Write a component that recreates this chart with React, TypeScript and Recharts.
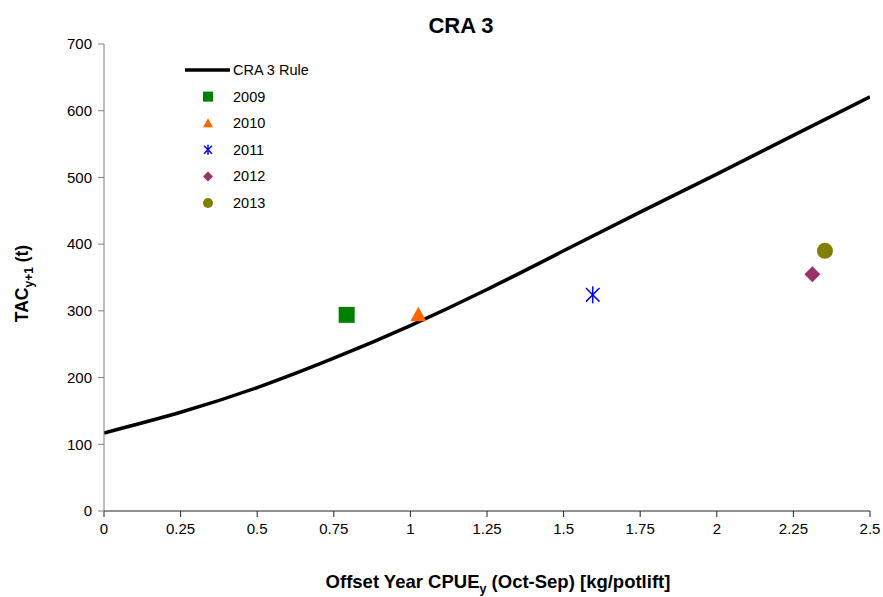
import React from 'react';
import { ComposedChart, Line, Scatter, XAxis, YAxis, Label } from 'recharts';

// CRA 3 harvest control rule
const ruleCpue = [0, 0.25, 0.5, 0.75, 1, 1.25, 1.5, 1.75, 2, 2.25, 2.5];
const ruleTac = [117, 148, 185, 229, 278, 332, 390, 448, 505, 563, 621];

// observed years
const years = ['2009', '2010', '2011', '2012', '2013'];
const yearCpue = [0.792, 1.026, 1.595, 2.312, 2.353];
const yearTac = [294, 294, 324, 355, 390];

const xTicks = [0, 0.25, 0.5, 0.75, 1, 1.25, 1.5, 1.75, 2, 2.25, 2.5];
const yTicks = [0, 100, 200, 300, 400, 500, 600, 700];

const FONT = '"Liberation Sans", Arial, sans-serif';
const colors = ['#008000', '#FF6600', '#0000FF', '#993366', '#808000'];
const kinds = ['square', 'triangle', 'asterisk', 'diamond', 'circle'];

const ruleData = ruleCpue.map((x, i) => ({ x, y: ruleTac[i] }));

function Marker({ kind, cx, cy, s, color }: { kind: string; cx: number; cy: number; s: number; color: string }) {
  const h = s / 2;
  if (kind === 'square') return <rect x={cx - h} y={cy - h} width={s} height={s} fill={color} />;
  if (kind === 'triangle')
    return <polygon points={`${cx},${cy - h} ${cx + h},${cy + h * 0.8} ${cx - h},${cy + h * 0.8}`} fill={color} />;
  if (kind === 'diamond')
    return <polygon points={`${cx},${cy - h} ${cx + h},${cy} ${cx},${cy + h} ${cx - h},${cy}`} fill={color} />;
  if (kind === 'circle') return <circle cx={cx} cy={cy} r={h} fill={color} />;
  const d = h * 0.8;
  return (
    <g stroke={color} strokeWidth={1.5}>
      <line x1={cx} y1={cy - h} x2={cx} y2={cy + h} />
      <line x1={cx - d} y1={cy - d} x2={cx + d} y2={cy + d} />
      <line x1={cx - d} y1={cy + d} x2={cx + d} y2={cy - d} />
    </g>
  );
}

const makeShape = (i: number) => (props: any) => (
  <Marker kind={kinds[i]} cx={props.cx} cy={props.cy} s={i === 2 ? 17 : 16} color={colors[i]} />
);

function LegendBox() {
  const rowH = 26.6;
  return (
    <svg width={170} height={160} style={{ fontFamily: FONT, fontSize: 14.5, display: 'block' }}>
      <line x1={2} y1={10} x2={47} y2={10} stroke="#000" strokeWidth={3.5} />
      <text x={50} y={15} fill="#000">CRA 3 Rule</text>
      {years.map((yr, i) => (
        <g key={yr}>
          <Marker kind={kinds[i]} cx={25} cy={10 + rowH * (i + 1)} s={10} color={colors[i]} />
          <text x={50} y={15 + rowH * (i + 1)} fill="#000">{yr}</text>
        </g>
      ))}
    </svg>
  );
}

function YTitle({ viewBox }: any) {
  const cx = 28;
  const cy = viewBox.y + viewBox.height / 2 + 6;
  return (
    <text
      x={cx}
      y={cy}
      transform={`rotate(-90 ${cx} ${cy})`}
      textAnchor="middle"
      style={{ fontFamily: FONT, fontSize: 17.5, fontWeight: 'bold' }}
      fill="#000"
    >
      TAC<tspan fontSize={12} dy={5}>y+1</tspan>
      <tspan dy={-5}> (t)</tspan>
    </text>
  );
}

function XTitle({ viewBox }: any) {
  const cx = viewBox.x + viewBox.width / 2 + 11;
  return (
    <text
      x={cx}
      y={588}
      textAnchor="middle"
      style={{ fontFamily: FONT, fontSize: 18.5, fontWeight: 'bold' }}
      fill="#000"
    >
      Offset Year CPUE<tspan fontSize={12.5} dy={5}>y</tspan>
      <tspan dy={-5}> (Oct-Sep) [kg/potlift]</tspan>
    </text>
  );
}

export default function App() {
  return (
    <div style={{ position: 'absolute', left: 0, top: 0, width: 883, height: 597, background: '#fff' }}>
      <div
        style={{
          position: 'absolute',
          left: 0,
          width: 922,
          top: 13,
          textAlign: 'center',
          fontFamily: FONT,
          fontWeight: 'bold',
          fontSize: 22,
        }}
      >
        CRA 3
      </div>
      <ComposedChart width={883} height={597} margin={{ top: 44, right: 13, bottom: 56, left: 44 }}>
        <XAxis
          type="number"
          dataKey="x"
          domain={[0, 2.5]}
          ticks={xTicks}
          interval={0}
          allowDataOverflow
          stroke="#222"
          tickSize={6}
          tickMargin={6}
          height={30}
          tick={{ fill: '#000', fontSize: 15, fontFamily: FONT }}
        >
          <Label content={<XTitle />} />
        </XAxis>
        <YAxis
          type="number"
          dataKey="y"
          domain={[0, 700]}
          ticks={yTicks}
          interval={0}
          stroke="#808080"
          tickSize={6}
          tickMargin={6}
          width={60}
          tick={{ fill: '#000', fontSize: 15, fontFamily: FONT }}
        >
          <Label content={<YTitle />} />
        </YAxis>
        <Line
          data={ruleData}
          dataKey="y"
          type="natural"
          stroke="#000"
          strokeWidth={3.5}
          dot={false}
          activeDot={false}
          isAnimationActive={false}
        />
        {years.map((yr, i) => (
          <Scatter
            key={yr}
            name={yr}
            data={[{ x: yearCpue[i], y: yearTac[i] }]}
            dataKey="y"
            shape={makeShape(i)}
            isAnimationActive={false}
          />
        ))}
      </ComposedChart>
      <div style={{ position: 'absolute', left: 183, top: 60 }}>
        <LegendBox />
      </div>
    </div>
  );
}
